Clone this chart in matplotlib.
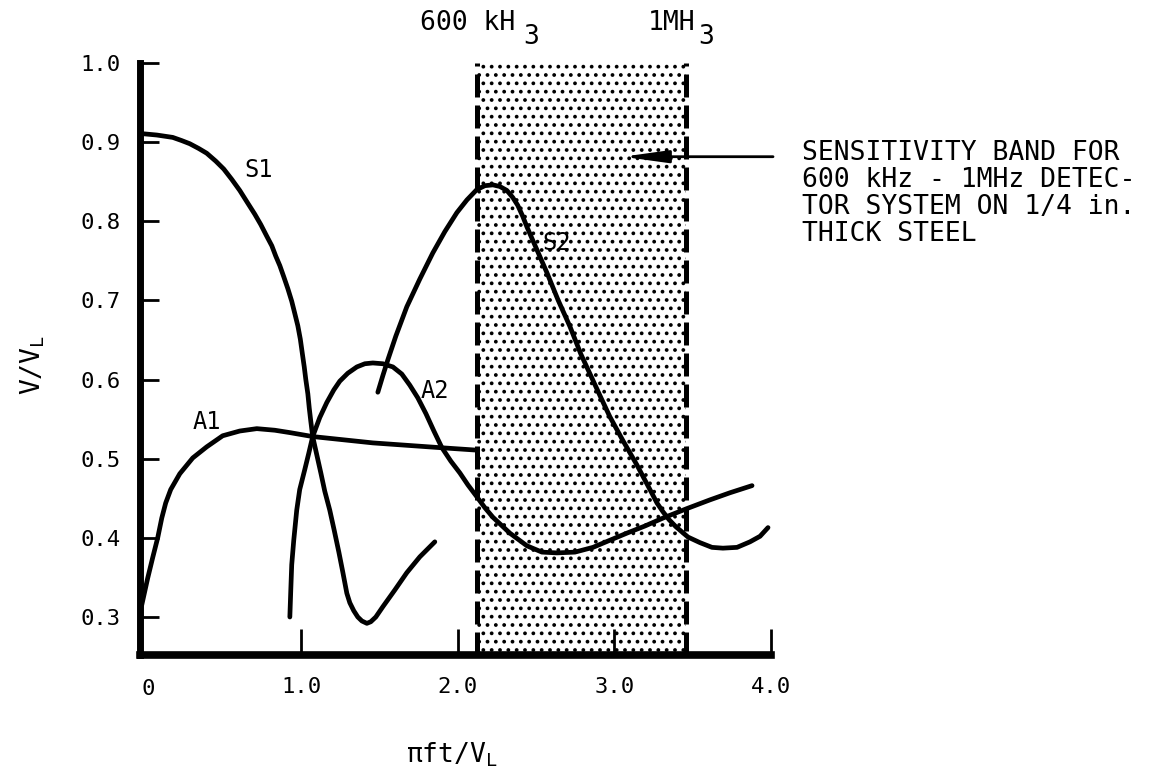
import matplotlib.pyplot as plt

plt.rcParams['font.family'] = ['DejaVu Sans Mono', 'DejaVu Sans']
plt.rcParams['mathtext.fontset'] = 'custom'
plt.rcParams['mathtext.rm'] = 'DejaVu Sans Mono'
plt.rcParams['mathtext.it'] = 'DejaVu Sans Mono'
plt.rcParams['hatch.linewidth'] = 1.5

# curve S1
s1_x = [-0.032, 0.077, 0.179, 0.236, 0.288, 0.345, 0.396, 0.454, 0.505, 0.556, 0.607,
        0.658, 0.703, 0.741, 0.780, 0.812, 0.837, 0.863, 0.888, 0.914, 0.939, 0.958,
        0.978, 0.994, 1.006, 1.019, 1.029, 1.042, 1.051, 1.061, 1.073, 1.099, 1.125,
        1.150, 1.182, 1.211, 1.240, 1.265, 1.291, 1.310, 1.335, 1.361, 1.387, 1.419,
        1.444, 1.476, 1.521, 1.597, 1.674, 1.757, 1.853]
s1_y = [0.911, 0.909, 0.906, 0.902, 0.898, 0.892, 0.886, 0.876, 0.866, 0.853, 0.839,
        0.823, 0.809, 0.796, 0.781, 0.769, 0.756, 0.744, 0.730, 0.715, 0.699, 0.684,
        0.668, 0.651, 0.634, 0.616, 0.600, 0.582, 0.564, 0.547, 0.528, 0.505, 0.482,
        0.459, 0.435, 0.409, 0.382, 0.357, 0.330, 0.318, 0.308, 0.300, 0.295, 0.292,
        0.294, 0.300, 0.313, 0.334, 0.356, 0.376, 0.395]

# curve A1
a1_x = [-0.019, 0.019, 0.051, 0.083, 0.109, 0.134, 0.166, 0.224, 0.307, 0.396, 0.498,
        0.607, 0.716, 0.831, 0.927, 1.073, 1.457, 1.885, 2.109]
a1_y = [0.315, 0.349, 0.375, 0.400, 0.425, 0.444, 0.461, 0.481, 0.501, 0.515, 0.529,
        0.535, 0.538, 0.536, 0.533, 0.528, 0.520, 0.514, 0.511]

# curve A2
a2_x = [0.927, 0.933, 0.939, 0.952, 0.971, 0.990, 1.022, 1.048, 1.073, 1.118, 1.163,
        1.208, 1.246, 1.297, 1.355, 1.406, 1.457, 1.521, 1.585, 1.642, 1.693, 1.744,
        1.796, 1.847, 1.898, 1.955, 2.013, 2.064, 2.121, 2.173, 2.224, 2.332, 2.441,
        2.537, 2.633, 2.748, 2.863, 2.971, 3.080, 3.195, 3.310, 3.463, 3.610, 3.738,
        3.879]
a2_y = [0.300, 0.334, 0.366, 0.397, 0.435, 0.461, 0.486, 0.507, 0.528, 0.552, 0.571,
        0.587, 0.598, 0.608, 0.616, 0.620, 0.621, 0.620, 0.616, 0.607, 0.593, 0.577,
        0.557, 0.535, 0.514, 0.497, 0.482, 0.467, 0.452, 0.438, 0.426, 0.406, 0.390,
        0.382, 0.381, 0.382, 0.388, 0.397, 0.406, 0.415, 0.425, 0.437, 0.448, 0.457,
        0.466]

# curve S2
s2_x = [1.489, 1.521, 1.553, 1.604, 1.674, 1.757, 1.840, 1.917, 1.994, 2.058, 2.121,
        2.173, 2.224, 2.268, 2.313, 2.351, 2.383, 2.415, 2.441, 2.505, 2.569, 2.639,
        2.716, 2.786, 2.856, 2.914, 2.971, 3.054, 3.144, 3.227, 3.272, 3.310, 3.349,
        3.393, 3.470, 3.546, 3.623, 3.693, 3.783, 3.866, 3.930, 3.981]
s2_y = [0.584, 0.605, 0.625, 0.655, 0.692, 0.727, 0.760, 0.787, 0.811, 0.827, 0.840,
        0.845, 0.846, 0.844, 0.839, 0.830, 0.820, 0.806, 0.793, 0.764, 0.735, 0.701,
        0.667, 0.632, 0.602, 0.577, 0.553, 0.523, 0.492, 0.461, 0.444, 0.433, 0.423,
        0.414, 0.401, 0.394, 0.388, 0.387, 0.388, 0.395, 0.402, 0.413]

curve_labels = ['S1', 'A1', 'A2', 'S2']
label_x = [0.728, 0.396, 1.853, 2.63]
label_y = [0.865, 0.547, 0.586, 0.773]

# detector band edges (600 kHz, 1 MHz)
band = [2.12, 3.46]

xticks = [1.0, 2.0, 3.0, 4.0]
xtick_labels = ['1.0', '2.0', '3.0', '4.0']
yticks = [0.3, 0.4, 0.5, 0.6, 0.7, 0.8, 0.9, 1.0]

W, H = 1169, 777
fig = plt.figure(figsize=(W / 100, H / 100), dpi=100)
ax = fig.add_axes([140 / W, 1 - 655 / H, 631 / W, 592 / H])
ax.set_xlim(-0.03, 4.0)
ax.set_ylim(0.252, 1.0)

# stippled sensitivity band
ax.axvspan(band[0], band[1], facecolor='none', edgecolor='black', hatch='..',
           linewidth=0, zorder=1)
for b in band:
    ax.axvline(b, color='black', lw=3.6, linestyle=(0, (4.6, 1.6)), zorder=2)

for xs, ys in [(s1_x, s1_y), (a1_x, a1_y), (a2_x, a2_y), (s2_x, s2_y)]:
    ax.plot(xs, ys, color='black', lw=3.4, solid_capstyle='round',
            solid_joinstyle='round', zorder=3)

for lab, lx, ly in zip(curve_labels, label_x, label_y):
    ax.text(lx, ly, lab, fontsize=17, ha='center', va='center', zorder=4)

for side in ['top', 'right']:
    ax.spines[side].set_visible(False)
ax.spines['left'].set_linewidth(5)
ax.spines['bottom'].set_linewidth(5.5)

ax.set_xticks(xticks)
ax.set_xticklabels(xtick_labels)
ax.set_yticks(yticks)
ax.set_yticklabels([f'{v:.1f}' for v in yticks])
ax.tick_params(axis='x', direction='in', length=19, width=2, pad=16, labelsize=16)
ax.tick_params(axis='y', direction='in', length=14, width=2, pad=14, labelsize=16)

# the "0" at the origin sits under the corner
ax.text(0.02, -0.04, '0', transform=ax.get_xaxis_transform(), fontsize=16,
        ha='center', va='top')

ax.set_ylabel('V/V$_{\\rm L}$', fontsize=19)
ax.yaxis.set_label_coords(-0.147, 0.49)
ax.set_xlabel('\u03c0ft/V$_{\\rm L}$', fontsize=19)
ax.xaxis.set_label_coords(0.494, -0.145)

# band edge labels above the plot
fig.text(420 / W, 1 - 23 / H, '600 kH', fontsize=19, va='center', ha='left')
fig.text(523 / W, 1 - 37 / H, '3', fontsize=19, va='center', ha='left')
fig.text(648 / W, 1 - 23 / H, '1MH', fontsize=19, va='center', ha='left')
fig.text(698 / W, 1 - 37 / H, '3', fontsize=19, va='center', ha='left')

ax.annotate('', xy=(3.054, 0.8816), xytext=(4.013, 0.8816), annotation_clip=False,
            arrowprops=dict(arrowstyle='-|>,head_length=1.8,head_width=0.25',
                            mutation_scale=15, lw=2, color='black',
                            shrinkA=0, shrinkB=0))

fig.text(802 / W, 1 - 140 / H,
         'SENSITIVITY BAND FOR\n600 kHz - 1MHz DETEC-\nTOR SYSTEM ON 1/4 in.\nTHICK STEEL',
         fontsize=19, va='top', ha='left', linespacing=1.05)

fig.savefig('out.png', dpi=100)
